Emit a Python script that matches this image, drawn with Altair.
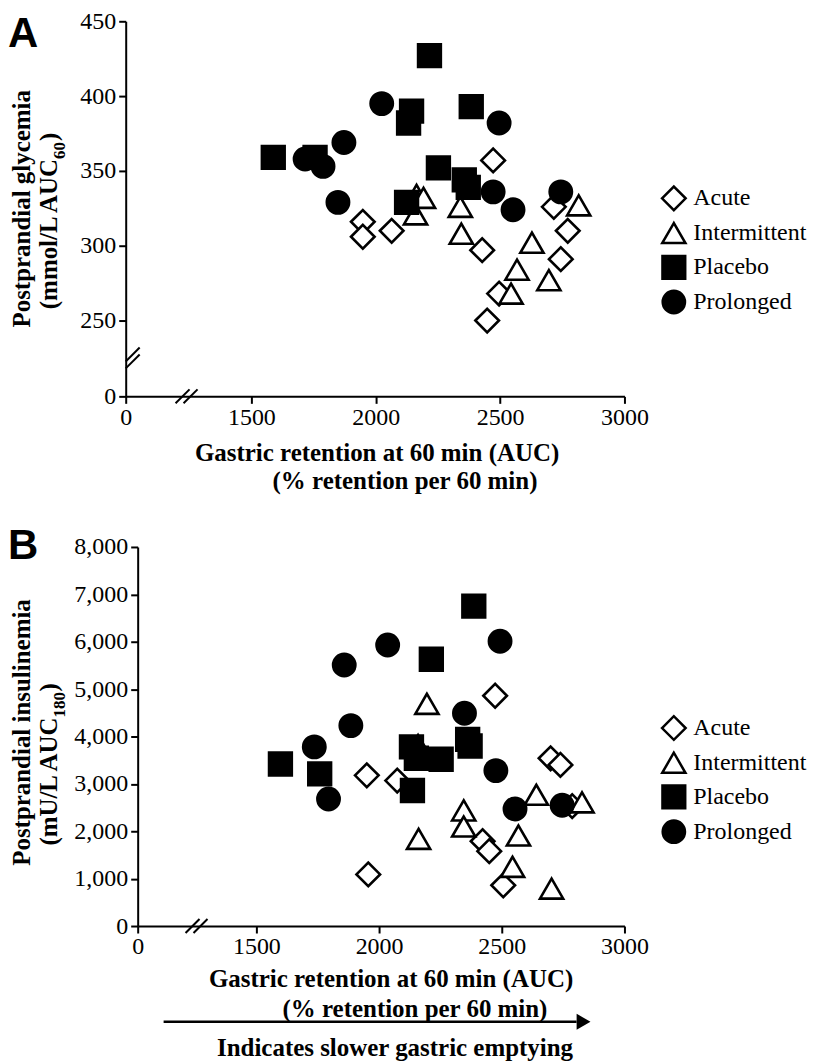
import altair as alt
import pandas as pd

groups = ["Acute", "Intermittent", "Placebo", "Prolonged"]
shapes = ["diamond", "triangle-up", "square", "circle"]
fills = ["white", "white", "black", "black"]
sizes = [560, 500, 290, 330]

# ---- Panel A: postprandial glycemia (mmol/L AUC60) vs gastric retention
acute_a_x = [1948, 1948, 2064, 2472, 2716, 2772, 2428, 2744, 2496, 2448]
acute_a_y = [316, 306, 310, 357, 326, 310, 297, 291, 268, 250]
inter_a_x = [2164, 2192, 2160, 2340, 2344, 2628, 2568, 2544, 2696, 2816]
inter_a_y = [334, 332, 321, 326, 308, 302, 284, 268, 277, 327]
plac_a_x = [1588, 1756, 2144, 2132, 2216, 2124, 2384, 2252, 2356, 2372]
plac_a_y = [359, 359, 390, 382, 427, 329, 393, 352, 344, 339]
prol_a_x = [1716, 1788, 1872, 2024, 1848, 2496, 2472, 2552, 2744]
prol_a_y = [358, 353, 369, 395, 329, 382, 336, 324, 336]

# ---- Panel B: postprandial insulinemia (mU/L AUC180) vs gastric retention
acute_b_x = [1950, 2074, 1956, 2473, 2699, 2739, 2787, 2422, 2449, 2506]
acute_b_y = [3180, 3070, 1090, 4860, 3540, 3400, 2530, 1790, 1580, 860]
inter_b_x = [2195, 2159, 2161, 2641, 2827, 2345, 2345, 2568, 2544, 2703]
inter_b_y = [4690, 3820, 1840, 2770, 2610, 2440, 2100, 1910, 1250, 790]
plac_b_x = [1598, 1758, 2132, 2152, 2136, 2213, 2253, 2361, 2371, 2386]
plac_b_y = [3420, 3210, 3780, 3540, 2860, 5630, 3520, 3940, 3800, 6750]
prol_b_x = [2035, 1858, 1885, 1736, 1794, 2493, 2348, 2476, 2554, 2746]
prol_b_y = [5930, 5510, 4230, 3780, 2680, 6010, 4490, 3280, 2470, 2550]

x_ticks = [0, 1500, 2000, 2500, 3000]
ya_ticks = [0, 250, 300, 350, 400, 450]
yb_ticks = [0, 1000, 2000, 3000, 4000, 5000, 6000, 7000, 8000]

SERIF = "Liberation Serif"
AXIS_FONT = "Liberation Serif, Times New Roman, serif"
SANS = "Liberation Sans"


def frame(series):
    rows = []
    for g, xs, ys in series:
        for xv, yv in zip(xs, ys):
            rows.append({"group": g, "x": xv, "y": yv})
    return pd.DataFrame(rows)


df_a = frame([("Acute", acute_a_x, acute_a_y), ("Intermittent", inter_a_x, inter_a_y),
              ("Placebo", plac_a_x, plac_a_y), ("Prolonged", prol_a_x, prol_a_y)])
df_b = frame([("Acute", acute_b_x, acute_b_y), ("Intermittent", inter_b_x, inter_b_y),
              ("Placebo", plac_b_x, plac_b_y), ("Prolonged", prol_b_x, prol_b_y)])

one = pd.DataFrame([{"k": 0}])


def txt(s, x, y, size=25, bold=True, angle=0, align="center", baseline="middle", font=SERIF):
    kw = dict(text=s, fontSize=size, font=font, align=align, baseline=baseline, color="black")
    if bold:
        kw["fontWeight"] = "bold"
    if angle:
        kw["angle"] = angle
    return alt.Chart(one).mark_text(**kw).encode(x=alt.value(x), y=alt.value(y))


def seg(x1, y1, x2, y2, w=2):
    return alt.Chart(one).mark_rule(color="black", strokeWidth=w).encode(
        x=alt.value(x1), y=alt.value(y1), x2=alt.value(x2), y2=alt.value(y2))


def legend(ly):
    return alt.Legend(orient="none", legendX=536, legendY=ly, title=None, padding=0,
                      labelFont=AXIS_FONT, labelFontSize=24, labelColor="black", labelOffset=6,
                      labelFontWeight="normal",
                      symbolStrokeColor="black", symbolStrokeWidth=2.5, rowPadding=1.3)


def axis_common(**kw):
    base = dict(title=None, grid=False, labelFont=AXIS_FONT, labelFontSize=24, labelColor="black",
                labelFontWeight="normal",
                domainColor="black", domainWidth=2, tickColor="black", tickWidth=2, tickSize=7,
                labelFlush=False, labelOverlap=False)
    base.update(kw)
    return alt.Axis(**base)


def points(df, xscale, yscale, xaxis, yaxis, ly):
    lg = legend(ly)
    return alt.Chart(df).mark_point(opacity=1, strokeWidth=2.6, strokeJoin="miter").encode(
        x=alt.X("x:Q", scale=xscale, axis=xaxis),
        y=alt.Y("y:Q", scale=yscale, axis=yaxis),
        shape=alt.Shape("group:N", scale=alt.Scale(domain=groups, range=shapes), legend=lg),
        fill=alt.Fill("group:N", scale=alt.Scale(domain=groups, range=fills), legend=lg),
        stroke=alt.Stroke("group:N", scale=alt.Scale(domain=groups, range=["black"] * 4), legend=lg),
        size=alt.Size("group:N", scale=alt.Scale(domain=groups, range=sizes), legend=lg),
    )


# ---------------- Panel A ----------------
HA = 376
xa = alt.Scale(domain=[0, 1500, 3000], range=[0, 126, 500], nice=False, zero=False)
ya = alt.Scale(domain=[0, 250, 450], range=[HA, 300, 0], nice=False, zero=False)
pts_a = points(df_a, xa, ya,
               axis_common(values=x_ticks, format="d", labelPadding=2),
               axis_common(values=ya_ticks, format="d", labelPadding=3), 164)

panel_a = alt.layer(
    pts_a,
    txt("A", -118, 26, size=42, font=SANS, align="left", baseline="alphabetic"),
    txt("Postprandial glycemia", -104, 188, angle=270),
    txt("(mmol/L AUC", -77, 138, angle=270, align="right"),
    txt("60", -66, 138, size=17, angle=270, align="left"),
    txt(")", -77, 120, angle=270, align="left"),
    txt("Gastric retention at 60 min (AUC)", 252, HA + 57),
    txt("(% retention per 60 min)", 280, HA + 85),
    # axis breaks
    seg(0, HA - 35, 14, HA - 49), seg(0, HA - 28, 14, HA - 42),
    seg(50, HA + 7, 64, HA - 7), seg(58, HA + 7, 72, HA - 7),
).properties(width=500, height=HA)

# ---------------- Panel B ----------------
xb = alt.Scale(domain=[0, 1500, 3000], range=[12, 131, 500], nice=False, zero=False)
yb = alt.Scale(domain=[0, 8000], range=[380, 0], nice=False, zero=False)
pts_b = points(df_b, xb, yb,
               axis_common(values=x_ticks, format="d", labelPadding=2),
               axis_common(values=yb_ticks, format=",d", labelPadding=3, offset=-12), 168)

panel_b = alt.layer(
    pts_b,
    txt("B", -118, 12, size=42, font=SANS, align="left", baseline="alphabetic"),
    txt("Postprandial insulinemia", -104, 186, angle=270),
    txt("(mU/L AUC", -77, 171, angle=270, align="right"),
    txt("180", -66, 171, size=17, angle=270, align="left"),
    txt(")", -77, 145, angle=270, align="left"),
    txt("Gastric retention at 60 min (AUC)", 266, 433),
    txt("(% retention per 60 min)", 290, 463),
    seg(60, 387, 74, 373), seg(68, 387, 82, 373),
    seg(38, 476, 452, 476, w=2.5),
    alt.Chart(one).mark_point(shape="triangle-right", filled=True, color="black", opacity=1, size=256).encode(
        x=alt.value(459), y=alt.value(476)),
    txt("Indicates slower gastric emptying", 270, 502),
).properties(width=500, height=380)

chart = alt.vconcat(panel_a, panel_b, spacing=31).resolve_scale(
    x="independent", y="independent", shape="independent", fill="independent",
    size="independent", stroke="independent"
).resolve_legend(shape="independent", fill="independent", size="independent", stroke="independent").configure(
    padding=0, background="white"
).configure_view(stroke=None)

chart.save("out.html", embed_options={"renderer": "svg", "actions": False})
